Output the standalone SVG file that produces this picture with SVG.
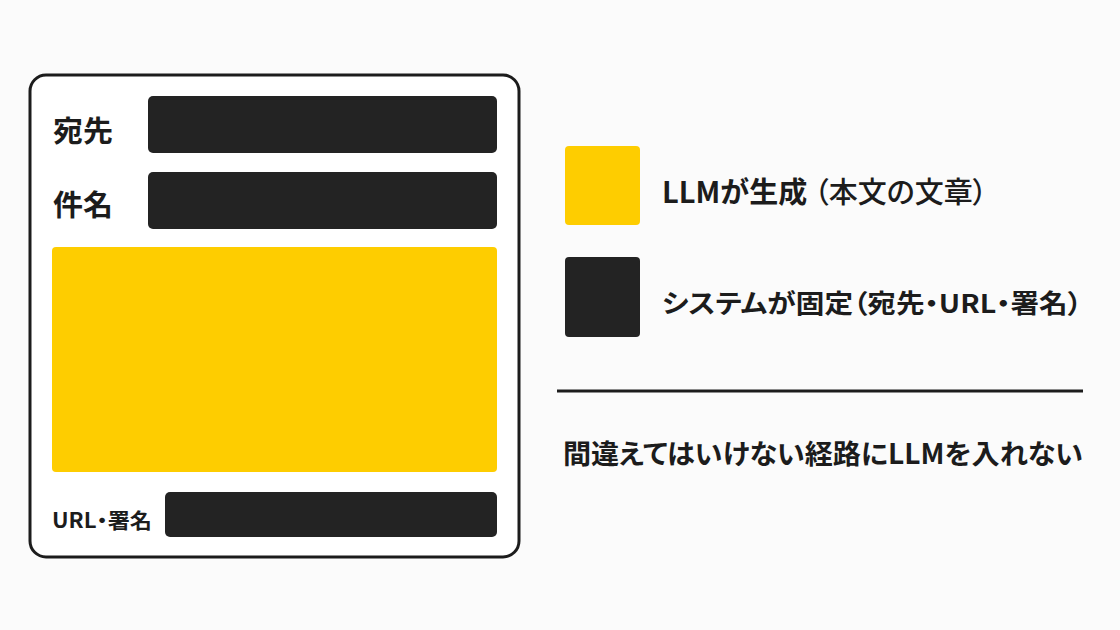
<svg xmlns="http://www.w3.org/2000/svg" width="1120" height="630" viewBox="0 0 1120 630">
<style>
.lbl{font-family:"Noto Sans CJK JP","Noto Sans",sans-serif;font-weight:700;fill:#1c1c1c;font-feature-settings:"palt" 1}
.blk{fill:#232323}
.yel{fill:#FECD00}
</style>
<rect width="1120" height="630" fill="#fbfbfb"/>
<g id="form">
<rect x="30" y="75" width="489" height="482" rx="16" fill="#ffffff" stroke="#1c1c1c" stroke-width="3"/>
</g>
<g id="to">
<text class="lbl" x="53" y="142" font-size="29" textLength="60" lengthAdjust="spacingAndGlyphs">宛先</text>
<rect class="blk" x="148" y="96" width="349" height="57" rx="5"/>
</g>
<g id="subject">
<text class="lbl" x="53" y="216" font-size="29" textLength="60" lengthAdjust="spacingAndGlyphs">件名</text>
<rect class="blk" x="148" y="172" width="349" height="57" rx="5"/>
</g>
<g id="body">
<rect class="yel" x="52" y="247" width="445" height="225" rx="4"/>
</g>
<g id="signature">
<text class="lbl" x="52" y="528" font-size="21" textLength="100" lengthAdjust="spacingAndGlyphs">URL・署名</text>
<rect class="blk" x="165" y="492" width="332" height="45" rx="5"/>
</g>
<g id="legend-llm">
<rect class="yel" x="565" y="146" width="75" height="79" rx="4"/>
<text class="lbl" x="662" y="203" font-size="29">LLMが生成<tspan dx="7" font-weight="500">（本文の文章）</tspan></text>
</g>
<g id="legend-system">
<rect class="blk" x="565" y="257" width="75" height="80" rx="4"/>
<text class="lbl" x="662" y="313" font-size="26" font-weight="500" textLength="420" lengthAdjust="spacingAndGlyphs">システムが固定（宛先・URL・署名）</text>
</g>
<g id="connectors">
<line x1="557" y1="391" x2="1083" y2="391" stroke="#1c1c1c" stroke-width="3"/>
</g>
<g id="note">
<text class="lbl" x="563" y="464" font-size="27.5" textLength="520" lengthAdjust="spacingAndGlyphs">間違えてはいけない経路にLLMを入れない</text>
</g>
</svg>
